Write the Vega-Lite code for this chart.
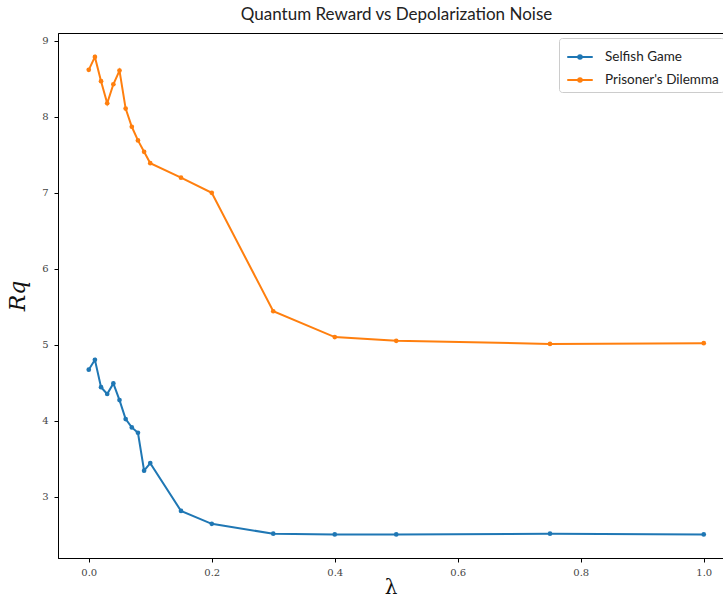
{
  "$schema": "https://vega.github.io/schema/vega-lite/v6.json",
  "autosize": {"type": "none"},
  "padding": {"left": 58, "top": 33, "right": 0, "bottom": 43},
  "width": 665,
  "height": 525,
  "background": "white",
  "title": {
    "text": "Quantum Reward vs Depolarization Noise",
    "font": "Lato",
    "fontSize": 17,
    "fontWeight": "normal",
    "color": "#222",
    "anchor": "middle",
    "dx": 6,
    "offset": 9
  },
  "config": {
    "view": {"stroke": "black", "strokeWidth": 1},
    "axis": {
      "grid": false,
      "domainColor": "black",
      "tickColor": "black",
      "tickSize": 4,
      "labelFont": "DejaVu Serif",
      "labelFontSize": 10,
      "labelColor": "#444",
      "titleFont": "DejaVu Serif",
      "titleFontWeight": "normal",
      "titleColor": "#111"
    }
  },
  "data": {
    "values": [
      {"lambda": 0.0, "R": 4.67, "game": "Selfish Game"},
      {"lambda": 0.01, "R": 4.80, "game": "Selfish Game"},
      {"lambda": 0.02, "R": 4.44, "game": "Selfish Game"},
      {"lambda": 0.03, "R": 4.35, "game": "Selfish Game"},
      {"lambda": 0.04, "R": 4.49, "game": "Selfish Game"},
      {"lambda": 0.05, "R": 4.27, "game": "Selfish Game"},
      {"lambda": 0.06, "R": 4.02, "game": "Selfish Game"},
      {"lambda": 0.07, "R": 3.91, "game": "Selfish Game"},
      {"lambda": 0.08, "R": 3.84, "game": "Selfish Game"},
      {"lambda": 0.09, "R": 3.34, "game": "Selfish Game"},
      {"lambda": 0.1, "R": 3.44, "game": "Selfish Game"},
      {"lambda": 0.15, "R": 2.81, "game": "Selfish Game"},
      {"lambda": 0.2, "R": 2.64, "game": "Selfish Game"},
      {"lambda": 0.3, "R": 2.51, "game": "Selfish Game"},
      {"lambda": 0.4, "R": 2.50, "game": "Selfish Game"},
      {"lambda": 0.5, "R": 2.50, "game": "Selfish Game"},
      {"lambda": 0.75, "R": 2.51, "game": "Selfish Game"},
      {"lambda": 1.0, "R": 2.50, "game": "Selfish Game"},
      {"lambda": 0.0, "R": 8.62, "game": "Prisoner's Dilemma"},
      {"lambda": 0.01, "R": 8.79, "game": "Prisoner's Dilemma"},
      {"lambda": 0.02, "R": 8.47, "game": "Prisoner's Dilemma"},
      {"lambda": 0.03, "R": 8.18, "game": "Prisoner's Dilemma"},
      {"lambda": 0.04, "R": 8.43, "game": "Prisoner's Dilemma"},
      {"lambda": 0.05, "R": 8.61, "game": "Prisoner's Dilemma"},
      {"lambda": 0.06, "R": 8.11, "game": "Prisoner's Dilemma"},
      {"lambda": 0.07, "R": 7.87, "game": "Prisoner's Dilemma"},
      {"lambda": 0.08, "R": 7.69, "game": "Prisoner's Dilemma"},
      {"lambda": 0.09, "R": 7.54, "game": "Prisoner's Dilemma"},
      {"lambda": 0.1, "R": 7.39, "game": "Prisoner's Dilemma"},
      {"lambda": 0.15, "R": 7.20, "game": "Prisoner's Dilemma"},
      {"lambda": 0.2, "R": 7.00, "game": "Prisoner's Dilemma"},
      {"lambda": 0.3, "R": 5.44, "game": "Prisoner's Dilemma"},
      {"lambda": 0.4, "R": 5.10, "game": "Prisoner's Dilemma"},
      {"lambda": 0.5, "R": 5.05, "game": "Prisoner's Dilemma"},
      {"lambda": 0.75, "R": 5.01, "game": "Prisoner's Dilemma"},
      {"lambda": 1.0, "R": 5.02, "game": "Prisoner's Dilemma"}
    ]
  },
  "mark": {
    "type": "line",
    "strokeWidth": 2,
    "point": {"filled": true, "size": 22}
  },
  "encoding": {
    "x": {
      "field": "lambda",
      "type": "quantitative",
      "scale": {"domain": [-0.05, 1.0313], "nice": false, "zero": false},
      "axis": {
        "values": [0, 0.2, 0.4, 0.6, 0.8, 1.0],
        "format": ".1f",
        "title": "λ",
        "titleFontSize": 20,
        "titlePadding": 0,
        "labelPadding": 5
      }
    },
    "y": {
      "field": "R",
      "type": "quantitative",
      "scale": {"domain": [2.19, 9.105], "nice": false, "zero": false},
      "axis": {
        "values": [3, 4, 5, 6, 7, 8, 9],
        "title": "Rq",
        "titleFontSize": 22,
        "titleFontStyle": "italic",
        "titlePadding": 12,
        "labelPadding": 6
      }
    },
    "color": {
      "field": "game",
      "type": "nominal",
      "sort": ["Selfish Game", "Prisoner's Dilemma"],
      "scale": {"domain": ["Selfish Game", "Prisoner's Dilemma"], "range": ["#1f77b4", "#ff7f0e"]},
      "legend": {
        "title": null,
        "orient": "none",
        "legendX": 501,
        "legendY": 5,
        "fillColor": "white",
        "strokeColor": "#cccccc",
        "cornerRadius": 3,
        "padding": 5,
        "rowPadding": 2,
        "labelFont": "Lato",
        "labelFontSize": 13.5,
        "labelColor": "#222",
        "symbolType": "M-1,0H1M-0.14,0A0.14,0.14 0 1,0 0.14,0A0.14,0.14 0 1,0 -0.14,0",
        "symbolSize": 650,
        "symbolStrokeWidth": 2,
        "symbolOffset": 2,
        "labelOffset": 11
      }
    }
  }
}
